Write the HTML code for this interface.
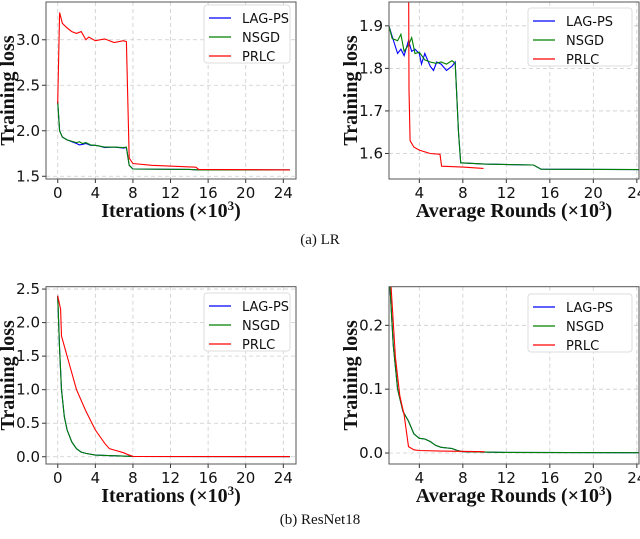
<!DOCTYPE html>
<html><head><meta charset="utf-8">
<style>
html,body{margin:0;padding:0;background:#fff;width:640px;height:539px;overflow:hidden}
svg{display:block}
.tick{font-family:"DejaVu Sans",sans-serif;font-size:15px;fill:#111}
.ttl{font-family:"Liberation Serif",serif;font-weight:bold;font-size:20px;fill:#111}
.leg{font-family:"DejaVu Sans",sans-serif;font-size:13px;fill:#111}
.cap{font-family:"Liberation Serif",serif;font-size:15px;fill:#111}
</style></head><body>
<svg id="fig" width="640" height="539" viewBox="0 0 640 539" xmlns="http://www.w3.org/2000/svg">
<text class="cap" x="320" y="244" text-anchor="middle">(a)  LR</text>
<text class="cap" x="320" y="524" text-anchor="middle">(b)  ResNet18</text>
</svg>
<script>
const lrIterLag=[[0,2.32],[0.2,2.0],[0.5,1.93],[1,1.9],[2,1.86],[2.3,1.845],[2.6,1.85],[3,1.86],[3.5,1.84],[4,1.84],[4.5,1.83],[5,1.815],[6,1.82],[7,1.81],[7.3,1.815],[7.6,1.62],[8,1.58],[14,1.575],[15,1.57],[24.7,1.57]];
const lrIterNsgd=[[0,2.32],[0.2,2.0],[0.5,1.93],[1,1.9],[2,1.87],[2.3,1.88],[2.6,1.86],[3,1.87],[3.5,1.845],[4,1.84],[4.5,1.83],[5,1.82],[6,1.82],[7,1.815],[7.3,1.82],[7.6,1.62],[8,1.58],[14,1.575],[15,1.57],[24.7,1.57]];
const lrIterPrlc=[[0,2.3],[0.2,3.3],[0.5,3.18],[1,3.13],[1.5,3.09],[2,3.07],[2.5,3.09],[3,3.0],[3.3,3.03],[4,2.99],[5,3.01],[6,2.97],[7,2.99],[7.3,2.98],[7.6,1.7],[8,1.64],[10,1.62],[14.7,1.6],[15,1.575],[24.7,1.57]];
const lrRoundLag=[[1.2,1.9],[1.5,1.875],[2,1.835],[2.3,1.845],[2.6,1.83],[3,1.865],[3.3,1.84],[3.6,1.845],[4,1.835],[4.2,1.81],[4.5,1.835],[5,1.805],[5.3,1.795],[5.6,1.815],[6,1.81],[6.5,1.795],[7,1.805],[7.3,1.815],[7.6,1.65],[7.8,1.578],[10,1.575],[14.5,1.573],[15.2,1.563],[24.2,1.562]];
const lrRoundNsgd=[[1.2,1.9],[1.5,1.87],[2,1.865],[2.3,1.88],[2.6,1.84],[3,1.855],[3.3,1.872],[3.6,1.835],[4,1.838],[4.5,1.82],[5,1.815],[5.5,1.812],[6,1.815],[6.5,1.81],[7,1.818],[7.3,1.812],[7.6,1.65],[7.8,1.578],[10,1.575],[14.5,1.573],[15.2,1.563],[24.2,1.562]];
const lrRoundPrlc=[[3.0,2.1],[3.05,1.75],[3.15,1.63],[3.5,1.615],[4,1.608],[5,1.6],[5.9,1.598],[6.05,1.57],[8,1.568],[9.9,1.565]];
const rnIterLag=[[0,2.4],[0.2,1.6],[0.4,1.0],[0.7,0.6],[1,0.4],[1.5,0.22],[2,0.12],[2.5,0.07],[3,0.05],[4,0.025],[5,0.02],[7,0.01],[8,0.005],[24.7,0.003]];
const rnIterNsgd=[[0,2.4],[0.2,1.6],[0.4,1.0],[0.7,0.6],[1,0.4],[1.5,0.22],[2,0.12],[2.5,0.07],[3,0.05],[4,0.025],[5,0.02],[7,0.01],[8,0.005],[24.7,0.003]];
const rnIterPrlc=[[0,2.4],[0.3,2.2],[0.4,1.8],[1,1.5],[1.5,1.25],[2,1.0],[3,0.68],[4,0.4],[5,0.2],[5.5,0.12],[6,0.1],[7,0.06],[7.5,0.03],[8,0.005],[24.7,0.003]];
const rnRoundLag=[[1.3,0.26],[1.6,0.17],[2,0.1],[2.5,0.065],[3,0.05],[3.5,0.03],[4,0.023],[4.5,0.022],[5,0.018],[5.5,0.012],[6,0.009],[7,0.007],[7.5,0.004],[8,0.002],[12,0.001],[24.2,0.0005]];
const rnRoundNsgd=[[1.3,0.26],[1.6,0.17],[2,0.1],[2.5,0.065],[3,0.05],[3.5,0.03],[4,0.023],[4.5,0.022],[5,0.018],[5.5,0.012],[6,0.009],[7,0.007],[7.5,0.004],[8,0.002],[12,0.001],[24.2,0.0005]];
const rnRoundPrlc=[[1.4,0.26],[1.8,0.15],[2.2,0.09],[2.6,0.06],[3,0.01],[3.5,0.005],[4,0.004],[6,0.003],[10,0.002]];
const xTicksIter=[0,4,8,12,16,20,24];
const xTicksRound=[4,8,12,16,20,24];
const yTicksLrIter=["1.5","2.0","2.5","3.0"];
const yTicksLrRound=["1.6","1.7","1.8","1.9"];
const yTicksRnIter=["0.0","0.5","1.0","1.5","2.0","2.5"];
const yTicksRnRound=["0.0","0.1","0.2"];
const seriesNames=["LAG-PS","NSGD","PRLC"];
const seriesColors=["#0000ff","#008000","#ff0000"];

const NS="http://www.w3.org/2000/svg";
const svg=document.getElementById('fig');
function mk(tag,attrs,parent){const e=document.createElementNS(NS,tag);for(const k in attrs)e.setAttribute(k,attrs[k]);(parent||svg).appendChild(e);return e;}

function chart(o){
  const g=mk('g',{});
  
  
  const sx=v=>o.x0+(v-o.xmin)/(o.xmax-o.xmin)*(o.x1-o.x0);
  const sy=v=>o.y1-(v-o.ymin)/(o.ymax-o.ymin)*(o.y1-o.y0);
  const clipId='c'+o.name;
  const cp=mk('clipPath',{id:clipId},g);mk('rect',{x:o.x0,y:o.y0,width:o.x1-o.x0,height:o.y1-o.y0},cp);
  o.xt.forEach(t=>{const x=sx(t);
    const l=mk('line',{x1:x,x2:x,y1:o.y0,y2:o.y1,stroke:'#ccc','stroke-dasharray':'4,3','stroke-width':0.8},g);
    
    mk('line',{x1:x,x2:x,y1:o.y1,y2:o.y1+4,stroke:'#333'},g);
    const tx=mk('text',{x:x,y:o.y1+19,'text-anchor':'middle',class:'tick'},g);tx.textContent=t;
    });
  o.yt.forEach(t=>{const y=sy(parseFloat(t));
    const l=mk('line',{x1:o.x0,x2:o.x1,y1:y,y2:y,stroke:'#ccc','stroke-dasharray':'4,3','stroke-width':0.8},g);
    
    mk('line',{x1:o.x0-4,x2:o.x0,y1:y,y2:y,stroke:'#333'},g);
    const tx=mk('text',{x:o.x0-6,y:y+5,'text-anchor':'end',class:'tick'},g);tx.textContent=t;
    });
  o.series.forEach((s,i)=>{
    const p=mk('polyline',{points:s.map(d=>sx(d[0]).toFixed(1)+','+sy(d[1]).toFixed(1)).join(' '),fill:'none',stroke:seriesColors[i],'stroke-width':1.1,'clip-path':'url(#'+clipId+')'},g);
    
    });
  const fr=mk('rect',{x:o.x0,y:o.y0,width:o.x1-o.x0,height:o.y1-o.y0,fill:'none',stroke:'#555','stroke-width':1},g);
  
  const yl=mk('text',{x:0,y:0,'text-anchor':'middle',class:'ttl',transform:`translate(${o.x0-32},${(o.y0+o.y1)/2}) rotate(-90)`},g);
  yl.textContent='Training loss';
  const xl=mk('text',{x:(o.x0+o.x1)/2,y:o.y1+38,'text-anchor':'middle',class:'ttl'},g);
  xl.innerHTML=o.xlabel+' (\u00d710<tspan dy="-7" font-size="13">3</tspan><tspan dy="7">)</tspan>';
  
  const lg=mk('g',{},g);
  mk('rect',{x:o.lx,y:o.ly,width:o.lw,height:58,fill:'#fff',stroke:'#ddd',rx:3},lg);
  seriesNames.forEach((n,i)=>{const y=o.ly+13+i*19;
    mk('line',{x1:o.lx+5,x2:o.lx+27,y1:y,y2:y,stroke:seriesColors[i],'stroke-width':1.3},lg);
    const t=mk('text',{x:o.lx+38,y:y+5,class:'leg'},lg);t.textContent=n;
    });
}
chart({name:'lr-iterations',x0:46,x1:296,y0:2,y1:179,xmin:-1.25,xmax:25.35,ymin:1.47,ymax:3.415,xt:xTicksIter,yt:yTicksLrIter,series:[lrIterLag,lrIterNsgd,lrIterPrlc],xlabel:'Iterations',lx:204,ly:5,lw:86});
chart({name:'lr-rounds',x0:389,x1:639,y0:2,y1:179,xmin:1.21,xmax:24.2,ymin:1.54,ymax:1.956,xt:xTicksRound,yt:yTicksLrRound,series:[lrRoundLag,lrRoundNsgd,lrRoundPrlc],xlabel:'Average Rounds',lx:528,ly:8,lw:104});
chart({name:'resnet-iterations',x0:46,x1:296,y0:286.7,y1:464,xmin:-1.25,xmax:25.35,ymin:-0.108,ymax:2.535,xt:xTicksIter,yt:yTicksRnIter,series:[rnIterLag,rnIterNsgd,rnIterPrlc],xlabel:'Iterations',lx:204,ly:293,lw:86});
chart({name:'resnet-rounds',x0:389,x1:639,y0:286.7,y1:464,xmin:1.21,xmax:24.2,ymin:-0.0172,ymax:0.2605,xt:xTicksRound,yt:yTicksRnRound,series:[rnRoundLag,rnRoundNsgd,rnRoundPrlc],xlabel:'Average Rounds',lx:528,ly:294,lw:104});
</script>
</body></html>
